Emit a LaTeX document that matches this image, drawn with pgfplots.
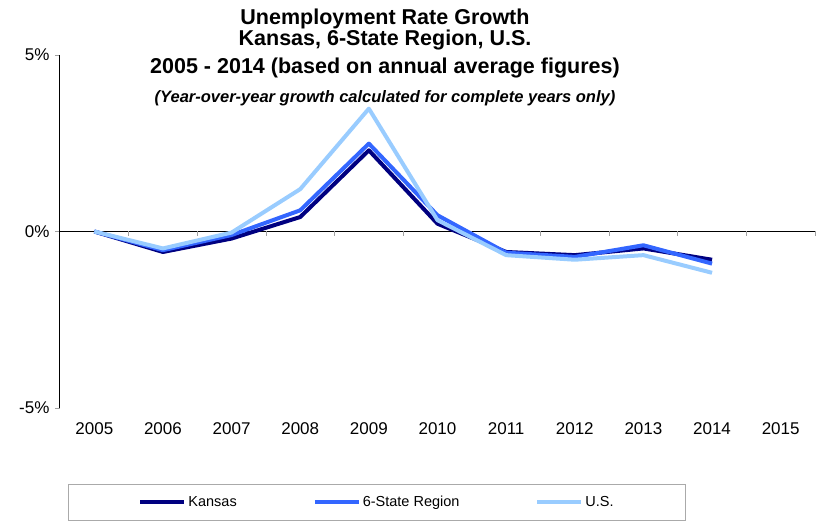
\documentclass[border=0pt]{standalone}
\usepackage{fontspec}
\setmainfont{Liberation Sans}
\setsansfont{Liberation Sans}
\usepackage{pgfplots}
\pgfplotsset{compat=1.18}
\definecolor{kansas}{RGB}{0,0,128}
\definecolor{region}{RGB}{51,102,255}
\definecolor{us}{RGB}{153,204,255}
\definecolor{tickgray}{RGB}{160,160,160}
\definecolor{legbox}{RGB}{170,170,170}
\begin{document}
\begin{tikzpicture}
\path[use as bounding box] (0,0) rectangle (820pt,524pt);
\clip (0,0) rectangle (820pt,524pt);
\node[anchor=base,font=\bfseries\fontsize{21.5}{24}\selectfont] at (385pt,499.5pt) {Unemployment Rate Growth};
\node[anchor=base,font=\bfseries\fontsize{21.5}{24}\selectfont] at (385pt,478.5pt) {Kansas, 6-State Region, U.S.};
\node[anchor=base,font=\bfseries\fontsize{21.5}{24}\selectfont] at (385pt,450.5pt) {2005 - 2014 (based on annual average figures)};
\node[anchor=base,font=\bfseries\itshape\fontsize{16.5}{20}\selectfont] at (385pt,421pt) {(Year-over-year growth calculated for complete years only)};
\begin{axis}[
  at={(60pt,116pt)}, anchor=south west,
  width=755pt, height=353pt, scale only axis,
  xmin=-0.5, xmax=10.5, ymin=-5, ymax=5,
  axis x line*=bottom, axis y line*=left,
  x axis line style={draw=none},
  y axis line style={black, line width=1pt, -},
  xtick={0,...,10},
  xticklabels={2005,2006,2007,2008,2009,2010,2011,2012,2013,2014,2015},
  ytick={-5,0,5},
  yticklabels={-5\%,0\%,5\%},
  x tick style={draw=none},
  y tick style={tickgray, line width=0.8pt},
  tick align=outside,
  major tick length=5pt,
  /pgf/number format/assume math mode=true,
  tick label style={font=\fontsize{17}{20}\selectfont},
  xticklabel style={yshift=-6pt},
  yticklabel style={xshift=-2pt},
  clip=false,
  legend columns=3,
  legend style={at={(0.0106,-0.2153)}, anchor=north west, draw=legbox, line width=0.8pt,
    font=\fontsize{14.5}{17}\selectfont, inner xsep=70pt, inner ysep=10pt,
    /tikz/every even column/.append style={column sep=74pt},
    nodes={inner sep=2pt}},
  legend cell align=left,
  legend image code/.code={\draw[#1] (0pt,0pt) -- (44pt,0pt);},
]
\draw[black, line width=1pt] (axis cs:-0.5,0) -- (axis cs:10.5,0);
\pgfplotsinvokeforeach{0.5,1.5,...,10.5}{\draw[tickgray, line width=0.8pt] (axis cs:#1,0) -- ++(0pt,-5pt);}
\addplot[kansas, line width=4pt, line join=round] coordinates {
(0,0) (1,-0.58) (2,-0.2) (3,0.41) (4,2.3) (5,0.22) (6,-0.58) (7,-0.67) (8,-0.48) (9,-0.8)};
\addlegendentry{Kansas}
\addplot[region, line width=4pt, line join=round] coordinates {
(0,0) (1,-0.53) (2,-0.1) (3,0.6) (4,2.49) (5,0.46) (6,-0.6) (7,-0.72) (8,-0.39) (9,-0.91)};
\addlegendentry{6-State Region}
\addplot[us, line width=4pt, line join=round] coordinates {
(0,0) (1,-0.48) (2,-0.03) (3,1.2) (4,3.48) (5,0.32) (6,-0.67) (7,-0.8) (8,-0.67) (9,-1.17)};
\addlegendentry{U.S.}
\end{axis}
\end{tikzpicture}
\end{document}
